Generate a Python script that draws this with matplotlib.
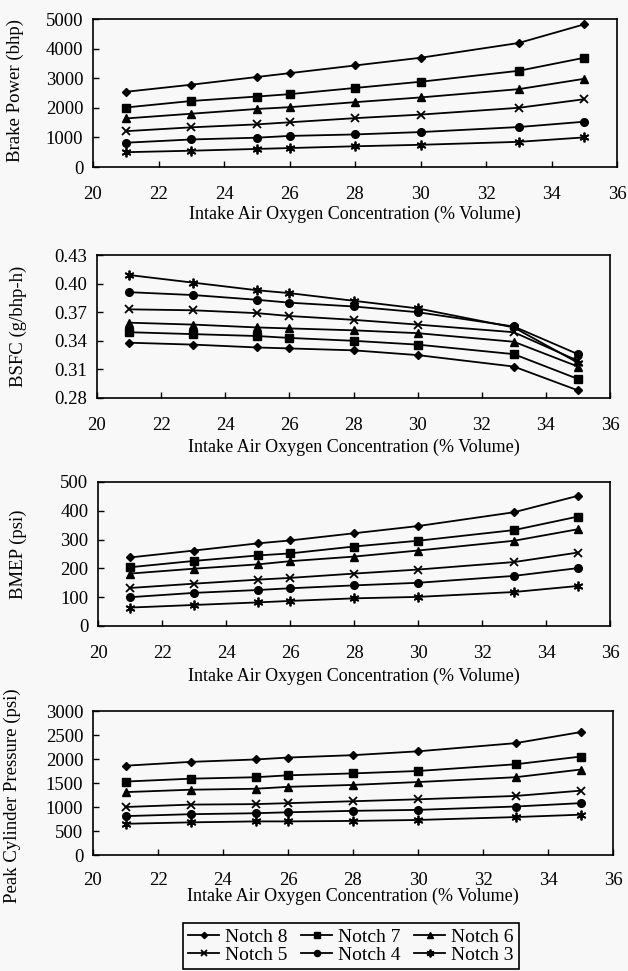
import matplotlib.pyplot as plt

# oxygen concentration (% volume)
o2 = [21, 23, 25, 26, 28, 30, 33, 35]
notches = ['Notch 8', 'Notch 7', 'Notch 6', 'Notch 5', 'Notch 4', 'Notch 3']

# brake power (bhp)
bp_n8 = [2540, 2780, 3040, 3170, 3430, 3690, 4190, 4820]
bp_n7 = [2010, 2230, 2380, 2460, 2670, 2880, 3250, 3690]
bp_n6 = [1640, 1800, 1960, 2020, 2190, 2350, 2630, 2980]
bp_n5 = [1210, 1340, 1440, 1510, 1650, 1770, 2000, 2290]
bp_n4 = [820, 930, 990, 1050, 1100, 1180, 1350, 1530]
bp_n3 = [500, 550, 610, 640, 700, 750, 850, 1000]

# BSFC (g/bhp-h)
bsfc_n8 = [0.338, 0.336, 0.333, 0.332, 0.330, 0.325, 0.313, 0.288]
bsfc_n7 = [0.349, 0.347, 0.345, 0.343, 0.340, 0.336, 0.326, 0.300]
bsfc_n6 = [0.359, 0.357, 0.354, 0.353, 0.351, 0.348, 0.339, 0.313]
bsfc_n5 = [0.373, 0.372, 0.369, 0.366, 0.362, 0.357, 0.349, 0.319]
bsfc_n4 = [0.391, 0.388, 0.383, 0.380, 0.376, 0.370, 0.355, 0.326]
bsfc_n3 = [0.409, 0.401, 0.393, 0.390, 0.382, 0.374, 0.354, 0.317]

# BMEP (psi)
bmep_n8 = [238, 262, 287, 297, 322, 347, 395, 452]
bmep_n7 = [204, 226, 245, 252, 276, 296, 333, 380]
bmep_n6 = [182, 199, 214, 225, 241, 262, 296, 336]
bmep_n5 = [132, 147, 161, 167, 182, 196, 222, 255]
bmep_n4 = [100, 115, 125, 131, 141, 150, 174, 201]
bmep_n3 = [64, 73, 82, 87, 96, 101, 118, 139]

# peak cylinder pressure (psi)
pcp_n8 = [1860, 1940, 1990, 2030, 2080, 2160, 2330, 2560]
pcp_n7 = [1530, 1590, 1620, 1660, 1700, 1750, 1890, 2050]
pcp_n6 = [1310, 1360, 1380, 1420, 1460, 1520, 1620, 1780]
pcp_n5 = [1000, 1050, 1060, 1080, 1120, 1160, 1230, 1340]
pcp_n4 = [810, 850, 870, 890, 920, 940, 1010, 1080]
pcp_n3 = [650, 680, 700, 700, 710, 730, 790, 840]

plt.rcParams.update({
    "font.family": "Liberation Serif",
    "font.size": 12,
})

W, H = 628, 971
bg = '#f8f8f8'
fig = plt.figure(figsize=(W / 100, H / 100), dpi=100, facecolor=bg)

styles = [
    dict(marker='D', ms=4),
    dict(marker='s', ms=5.5),
    dict(marker='^', ms=5.5),
    dict(marker='x', ms=6, mew=1.3),
    dict(marker='o', ms=5.5),
    dict(marker=(6, 2, 0), ms=7, mew=1.3),
]

# axes boxes in pixels: left, right, top, bottom
boxes = [(93, 617, 19, 167), (97, 610, 255, 398), (98, 610, 482, 626), (93, 613, 711, 855)]
# ylabel right edge (px), ylabel centre (axes frac), xlabel top below axis (px)
ylab_x = [24, 27, 27, 21]
ylab_y = [0.52, 0.5, 0.5, 0.41]
xlab_off = [39, 41, 42, 33]
panels = [
    ([bp_n8, bp_n7, bp_n6, bp_n5, bp_n4, bp_n3], 'Brake Power (bhp)', (0, 5000), range(0, 5001, 1000), '{:.0f}'),
    ([bsfc_n8, bsfc_n7, bsfc_n6, bsfc_n5, bsfc_n4, bsfc_n3], 'BSFC (g/bhp-h)', (0.28, 0.43),
     [0.28, 0.31, 0.34, 0.37, 0.40, 0.43], '{:.2f}'),
    ([bmep_n8, bmep_n7, bmep_n6, bmep_n5, bmep_n4, bmep_n3], 'BMEP (psi)', (0, 500), range(0, 501, 100), '{:.0f}'),
    ([pcp_n8, pcp_n7, pcp_n6, pcp_n5, pcp_n4, pcp_n3], 'Peak Cylinder Pressure (psi)', (0, 3000),
     range(0, 3001, 500), '{:.0f}'),
]

handles = []
for i, ((l, r, t, b), (series, ylab, ylim, yticks, fmt)) in enumerate(zip(boxes, panels)):
    ax = fig.add_axes([l / W, 1 - b / H, (r - l) / W, (b - t) / H], facecolor=bg)
    hs = []
    for s, st in zip(series, styles):
        h, = ax.plot(o2, s, color='black', lw=1.3, **st)
        hs.append(h)
    handles = hs
    ax.set_xlim(20, 36)
    ax.set_ylim(*ylim)
    ax.set_xticks(range(20, 37, 2))
    ax.set_yticks(list(yticks))
    ax.set_yticklabels([fmt.format(v) for v in yticks])
    ax.tick_params(direction='in', length=4, width=1, labelsize=13.5)
    ax.tick_params(axis='x', pad=14 if i < 3 else 12)
    ax.tick_params(axis='y', pad=7)
    for sp in ax.spines.values():
        sp.set_linewidth(1.2)
    ax.set_xlabel('Intake Air Oxygen Concentration (% Volume)', fontsize=13)
    ax.xaxis.set_label_coords(0.5, -xlab_off[i] / (b - t))
    ax.set_ylabel(ylab, fontsize=13.5)
    ax.yaxis.set_label_coords((ylab_x[i] - l) / (r - l), ylab_y[i])

order = [0, 3, 1, 4, 2, 5]
leg = fig.legend([handles[k] for k in order], [notches[k] for k in order],
                 loc='center', bbox_to_anchor=(351 / W, 1 - 946 / H), ncol=3,
                 fontsize=14, handlelength=1.6, handletextpad=0.3, columnspacing=0.7,
                 labelspacing=0.05, borderpad=0.25, fancybox=False, framealpha=1,
                 markerscale=0.8)
leg.get_frame().set_edgecolor('black')
leg.get_frame().set_linewidth(1.2)
leg.get_frame().set_facecolor(bg)

fig.savefig('out.png', dpi=100, facecolor=bg)
